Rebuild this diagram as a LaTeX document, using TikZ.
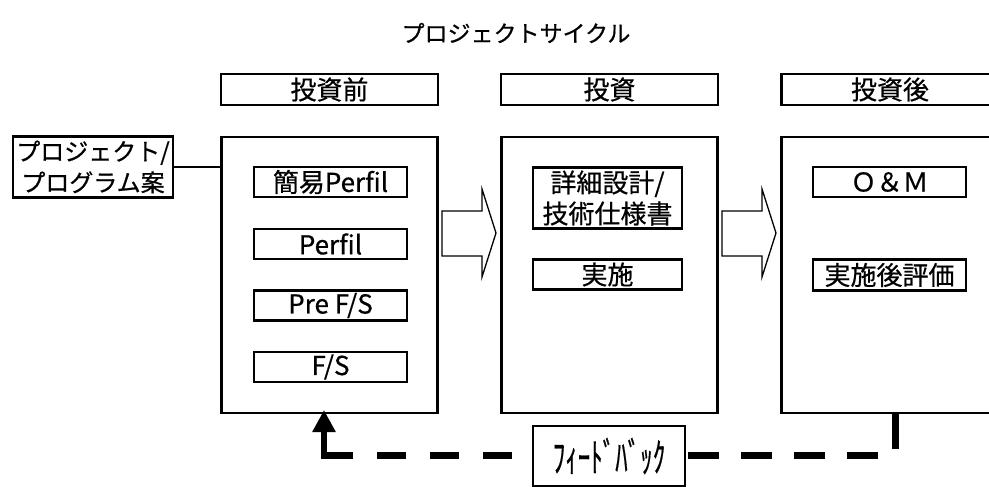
\documentclass[tikz,border=0pt]{standalone}
\usepackage{fontspec}
\usepackage{graphicx}
\setmainfont{Noto Sans CJK JP}[FakeBold=0.6]
\usetikzlibrary{arrows.meta}
\begin{document}
\begin{tikzpicture}[x=1pt,y=-1pt,
  frame/.style={draw, line width=2.8pt, inner sep=0pt, align=center},
  bigtext/.style={font=\fontsize{26pt}{31pt}\selectfont},
  midtext/.style={font=\fontsize{24pt}{31pt}\selectfont},
  blockarrow/.style={draw, line width=1.3pt},
  fbline/.style={line width=7pt, dash pattern=on 29pt off 24pt},
  fbline2/.style={line width=7pt, dash pattern=on 31pt off 22pt}]
\useasboundingbox (0,0) rectangle (989,487);
\clip (0,0) rectangle (989,487);

% title
\node[font=\fontsize{23pt}{27pt}\selectfont] (title) at (516,33) {プロジェクトサイクル};

% headers
\node[frame, bigtext, minimum width=217pt, minimum height=31pt] (h1) at (329.5,89.5) {投資前};
\node[frame, bigtext, minimum width=217pt, minimum height=31pt] (h2) at (609.5,89.5) {投資};
\node[frame, bigtext, minimum width=217pt, minimum height=31pt] (h3) at (890,89.5) {投資後};

% main boxes
\node[frame, minimum width=216pt, minimum height=276pt] (b1) at (329.5,275) {};
\node[frame, minimum width=216pt, minimum height=276pt] (b2) at (609.5,275) {};
\node[frame, minimum width=216pt, minimum height=276pt] (b3) at (889.5,275) {};

% project box
\node[frame, midtext, minimum width=160pt, minimum height=61pt] (proj) at (93,167) {プロジェクト/\\プログラム案};
\draw[line width=2.8pt] (proj.east) -- (proj.east -| b1.west);

% column 1
\node[frame, bigtext, minimum width=153pt, minimum height=30pt] (c11) at (330.5,182) {簡易Perfil};
\node[frame, bigtext, minimum width=153pt, minimum height=30pt] (c12) at (330.5,244) {Perfil};
\node[frame, bigtext, minimum width=153pt, minimum height=30pt] (c13) at (330.5,305.5) {Pre F/S};
\node[frame, bigtext, minimum width=153pt, minimum height=30pt] (c14) at (330.5,367) {F/S};

% column 2
\node[frame, bigtext, minimum width=149pt, minimum height=61pt] (c21) at (607.5,198) {詳細設計/\\技術仕様書};
\node[frame, bigtext, minimum width=149pt, minimum height=30pt] (c22) at (607.5,274.5) {実施};

% column 3
\node[frame, bigtext, minimum width=153pt, minimum height=30pt] (c31) at (889.5,182) {Ｏ＆Ｍ};
\node[frame, bigtext, minimum width=153pt, minimum height=31pt] (c32) at (889.5,275) {実施後評価};

% block arrows
\draw[blockarrow] (442,211) -- (482,211) -- (482,189) -- (496,233) -- (482,277) -- (482,256) -- (442,256) -- cycle;
\draw[blockarrow] (722,211) -- (762,211) -- (762,189) -- (776,233) -- (762,277) -- (762,256) -- (722,256) -- cycle;

% feedback
\node[frame, font=\fontsize{25pt}{28pt}\selectfont, minimum width=152pt, minimum height=60pt] (fb) at (609,456) {\scalebox{1}[1.6]{ﾌｨｰﾄﾞﾊﾞｯｸ}};
\coordinate (fbL) at (324,455);
\coordinate (fbR) at (895.5,455);
\coordinate (upR) at (895.5,449);
\draw[fbline] (fbL) -- (fbL -| fb.west);
\draw[line width=6pt, -{Triangle[width=22pt,length=22pt]}] ([yshift=-3.5pt]fbL) -- (324,410);
\draw[fbline2] ([xshift=2pt]fbR -| fb.east) -- (fbR);
\draw[line width=7pt] (upR) -- (upR |- b3.south);
\end{tikzpicture}
\end{document}
